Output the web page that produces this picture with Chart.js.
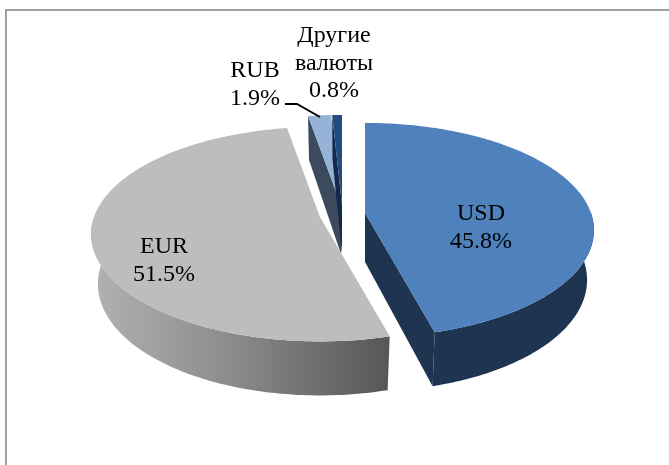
<!DOCTYPE html>
<html>
<head>
<meta charset="utf-8">
<style>
html, body { margin: 0; padding: 0; background: #fff; overflow: hidden; }
#wrap { position: absolute; left: 0; top: 0; width: 669px; height: 465px; }
#frame { position: absolute; left: 5px; top: 9px; width: 664px; height: 456px; border-left: 2px solid #a0a0a0; border-top: 2px solid #a0a0a0; box-sizing: border-box; }
canvas { position: absolute; left: 0; top: 0; }
</style>
</head>
<body>
<div id="wrap">
  <div id="frame"></div>
  <canvas id="pie" width="669" height="465"></canvas>
</div>
<script src="https://cdn.jsdelivr.net/npm/chart.js@4/dist/chart.umd.min.js"></script>
<script>
// данные
const categories = ['USD', 'EUR', 'RUB', 'Другие валюты'];
const shares = [45.8, 51.5, 1.9, 0.8];

// оформление секторов
const topColors = ['#4f81bd', '#bdbdbd', '#95b3d7', '#234c7e'];
const cutColors = ['#1f3450', '#6e6e6e', '#3c4a5e', '#16294a'];
const apexes = [[365, 213], [320, 217], [341, 205], [342, 205]];
const labelLines = [['USD'], ['EUR'], ['RUB'], ['Другие', 'валюты']];
const labelAnchors = [[481, 214], [164, 247], [255, 71], [334, 36]];
const drawOrder = [2, 3, 0, 1];

// проекция круга в перспективе
const radiusX = 226, radiusY = 104.5, persp = 0.16, depth = 49, depthFront = 5, bottomShrink = 0.97;

function project(apex, a, r, lower) {
    const u = Math.cos(a) * r, v = Math.sin(a) * r;
    const w = 1 - persp * v;
    const shrink = lower ? bottomShrink : 1;
    return [apex[0] + radiusX * u * shrink / w, apex[1] + radiusY * v / w + (lower ? depth + depthFront * v : 0)];
}

function arcPoints(apex, from, to, lower) {
    const pts = [];
    const steps = Math.max(4, Math.ceil(Math.abs(to - from) * 60));
    for (let i = 0; i <= steps; i++) {
        pts.push(project(apex, from + (to - from) * i / steps, 1, lower));
    }
    return pts;
}

function fillPoly(ctx, pts, color) {
    ctx.beginPath();
    pts.forEach((p, i) => i ? ctx.lineTo(p[0], p[1]) : ctx.moveTo(p[0], p[1]));
    ctx.closePath();
    ctx.fillStyle = color;
    ctx.fill();
}

// боковая грань разреза видна, только если она не уходит под верх сектора
function drawCut(ctx, apex, angle, midAngle, color) {
    const a = project(apex, angle, 0, false);
    const b = project(apex, angle, 1, false);
    const m = project(apex, midAngle, 1, false);
    const side = (b[0] - a[0]) * (m[1] - a[1]) - (b[1] - a[1]) * (m[0] - a[0]);
    const down = (b[0] - a[0]);
    if (side * down > 0) return;
    fillPoly(ctx, [a, b, project(apex, angle, 1, true), project(apex, angle, 0, true)], color);
}

function drawWall(ctx, apex, start, end, index) {
    // видна только передняя половина, углы Chart.js: PI/2 снизу
    const from = Math.max(start, 0), to = Math.min(end, Math.PI);
    if (to <= from) return;
    const upper = arcPoints(apex, from, to, false);
    const lower = arcPoints(apex, from, to, true);
    let color = cutColors[index];
    if (index === 1) {
        const xs = lower.map(p => p[0]);
        const g = ctx.createLinearGradient(Math.max(...xs), 0, Math.min(...xs), 0);
        g.addColorStop(0, '#575757');
        g.addColorStop(0.55, '#8c8c8c');
        g.addColorStop(1, '#b0b0b0');
        color = g;
    }
    fillPoly(ctx, upper.concat(lower.reverse()), color);
}

const pie3d = {
    id: 'pie3d',
    beforeDatasetsDraw(chart) {
        const ctx = chart.ctx;
        const arcs = chart.getDatasetMeta(0).data;
        ctx.save();
        drawOrder.forEach(i => {
            const el = arcs[i];
            const apex = apexes[i];
            const mid = (el.startAngle + el.endAngle) / 2;
            drawWall(ctx, apex, el.startAngle, el.endAngle, i);
            drawCut(ctx, apex, el.startAngle, mid, cutColors[i]);
            drawCut(ctx, apex, el.endAngle, mid, cutColors[i]);
            const top = arcPoints(apex, el.startAngle, el.endAngle, false);
            top.push(project(apex, 0, 0, false));
            fillPoly(ctx, top, topColors[i]);
        });
        ctx.restore();
        return false;
    },
    afterDraw(chart) {
        const ctx = chart.ctx;
        ctx.save();
        ctx.fillStyle = '#000';
        ctx.font = '24px "Liberation Serif"';
        ctx.textAlign = 'center';
        ctx.textBaseline = 'middle';
        shares.forEach((v, i) => {
            const lines = labelLines[i].concat(v.toFixed(1) + '%');
            lines.forEach((t, k) => ctx.fillText(t, labelAnchors[i][0], labelAnchors[i][1] + k * 27.5));
        });
        // выноска RUB
        ctx.strokeStyle = '#000';
        ctx.lineWidth = 2;
        ctx.beginPath();
        ctx.moveTo(285, 104);
        ctx.lineTo(297, 104);
        ctx.lineTo(320, 117);
        ctx.stroke();
        ctx.restore();
    }
};

new Chart(document.getElementById('pie').getContext('2d'), {
    type: 'pie',
    data: {
        labels: categories,
        datasets: [{ data: shares, backgroundColor: topColors, borderWidth: 0 }]
    },
    options: {
        responsive: false,
        animation: false,
        plugins: { legend: { display: false }, tooltip: { enabled: false } }
    },
    plugins: [pie3d]
});
</script>
</body>
</html>
